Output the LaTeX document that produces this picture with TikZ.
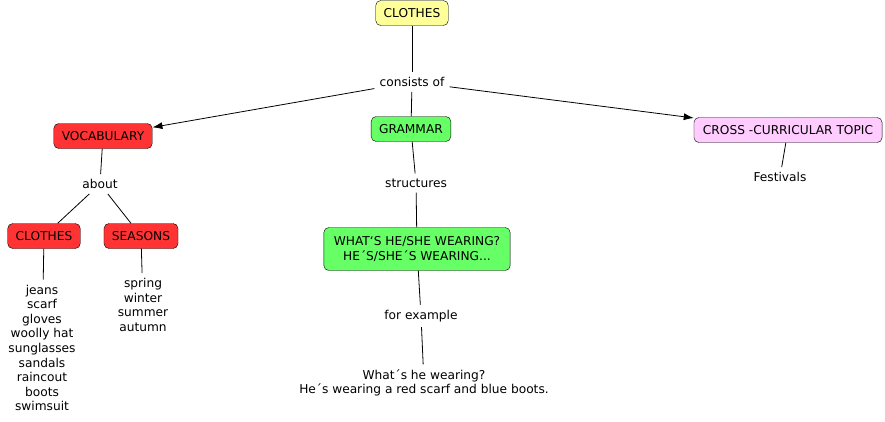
\documentclass[tikz,border=0pt]{standalone}
\usepackage{fontspec}
\setmainfont{DejaVu Sans}
\usepackage{xcolor}
\usetikzlibrary{arrows.meta,positioning}

\definecolor{topicyellow}{HTML}{FFFF99}
\definecolor{vocabred}{HTML}{FF3333}
\definecolor{grammargreen}{HTML}{66FF66}
\definecolor{crosspink}{HTML}{FFCCFF}

\begin{document}
\begin{tikzpicture}[
x=1pt, y=-1pt,
font=\fontsize{12.2}{14.6}\selectfont,
concept/.style={
    draw,
    rounded corners=5pt,
    minimum height=25pt,
    inner xsep=8pt,
    align=center
},
linkword/.style={
    inner sep=5pt,
    align=center
},
link/.style={line width=0.8pt},
arrow/.style={-{Latex[length=10pt,width=7pt]}, line width=0.8pt}
]
\useasboundingbox (0,0) rectangle (885,421);

\node[concept, fill=topicyellow] (clothes) at (412,13) {CLOTHES};
\node[linkword] (consists) at (412,82) {consists of};
\node[concept, fill=vocabred] (vocab) at (103,136) {VOCABULARY};
\node[concept, fill=grammargreen] (grammar) at (411,129) {GRAMMAR};
\node[concept, fill=crosspink, inner xsep=9pt] (cross) at (788,130) {CROSS -CURRICULAR TOPIC};

\node[linkword] (about) at (100,184) {about};
\node[concept, fill=vocabred] (items) at (44,236) {CLOTHES};
\node[concept, fill=vocabred] (seasons) at (141,236) {SEASONS};
\node[linkword] (itemlist) at (42,348) {jeans\\scarf\\gloves\\woolly hat\\sunglasses\\sandals\\raincout\\boots\\swimsuit};
\node[linkword] (seasonlist) at (143,305) {spring\\winter\\summer\\autumn};

\node[linkword] (structures) at (416,183) {structures};
\node[concept, fill=grammargreen, minimum height=43pt, inner xsep=10pt] (wearing) at (417,249) {WHAT\symbol{96}S HE/SHE WEARING?\\HE´S/SHE´S WEARING...};
\node[linkword] (example) at (421,316) {for example};
\node[linkword] (sentence) at (424,383) {What´s he wearing?\\He´s wearing a red scarf and blue boots.};

\node[linkword] (festivals) at (780,177) {Festivals};

% main links
\draw[link] (clothes) -- (consists);
\draw[arrow] (consists) -- (vocab);
\draw[link] (consists) -- (grammar);
\draw[arrow] (consists) -- (cross);

% vocabulary branch
\draw[link] (vocab) -- (about);
\draw[link] (about) -- (items);
\draw[link] (about) -- (seasons);
\draw[link] (items) -- (itemlist);
\draw[link] (seasons) -- (seasonlist);

% grammar branch
\draw[link] (grammar) -- (structures);
\draw[link] (structures) -- (wearing);
\draw[link] (wearing) -- (example);
\draw[link] (example) -- (sentence);

\draw[link] (cross) -- (festivals);

\end{tikzpicture}
\end{document}
